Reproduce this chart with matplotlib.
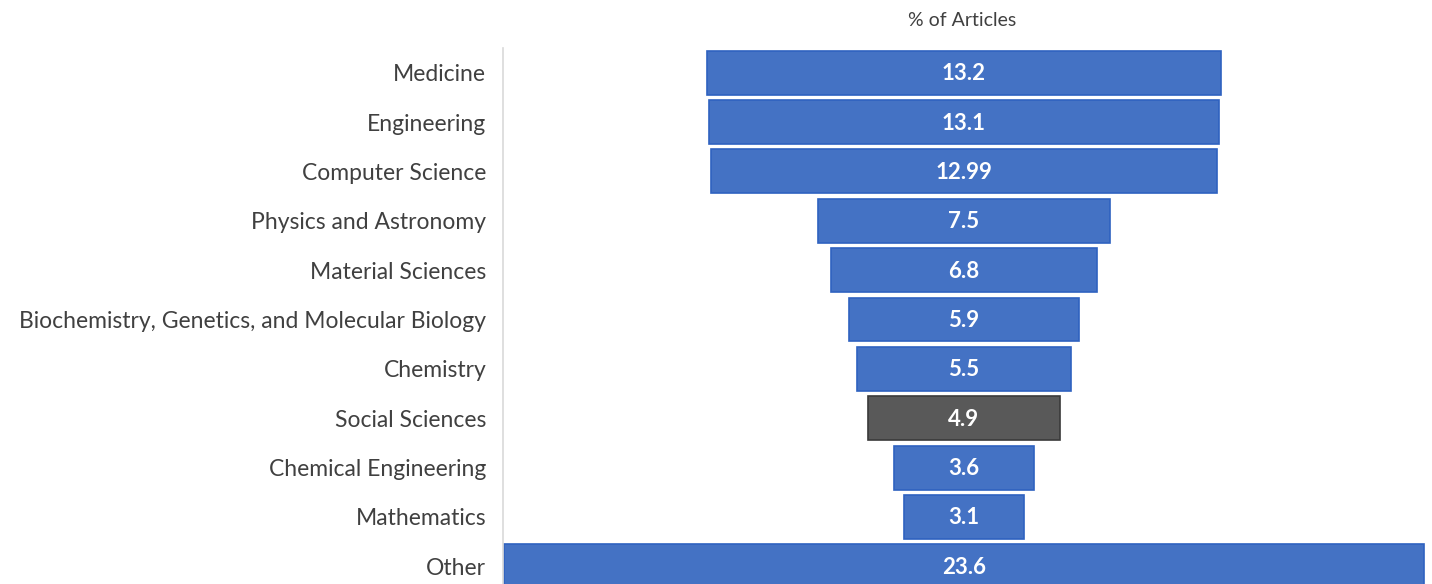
import matplotlib
matplotlib.use("Agg")
import matplotlib.pyplot as plt

categories = ["Medicine", "Engineering", "Computer Science", "Physics and Astronomy",
              "Material Sciences", "Biochemistry, Genetics, and Molecular Biology",
              "Chemistry", "Social Sciences", "Chemical Engineering", "Mathematics", "Other"]
values = [13.2, 13.1, 12.99, 7.5, 6.8, 5.9, 5.5, 4.9, 3.6, 3.1, 23.6]
highlight = "Social Sciences"

plt.rcParams['font.family'] = ['Lato', 'DejaVu Sans']

fig = plt.figure(figsize=(14.32, 5.84), dpi=100)
ax = fig.add_axes([503 / 1432, -7 / 584, 922 / 1432, 543 / 584])

blue, blue_edge = "#4472C4", "#2F62C0"
gray, gray_edge = "#595959", "#3A3A3A"

y_pos = range(len(categories))
for i, (cat, val) in enumerate(zip(categories, values)):
    face = gray if cat == highlight else blue
    edge = gray_edge if cat == highlight else blue_edge
    ax.barh(i, val, left=-val / 2, height=0.89, color=face, edgecolor=edge, linewidth=1.2)
    ax.text(0, i + 0.02, f"{val:g}", ha="center", va="center", color="white",
            fontsize=16, fontweight="bold")

ax.set_yticks(list(y_pos))
ax.set_yticklabels(categories, fontsize=16.5, color="#404040")
ax.tick_params(axis="y", length=0, pad=12)
ax.set_ylim(len(categories) - 0.5, -0.5)
ax.set_xlim(-11.82, 11.82)
ax.set_xticks([])

for s in ["top", "right", "bottom"]:
    ax.spines[s].set_visible(False)
ax.spines["left"].set_color("#D9D9D9")
ax.spines["left"].set_linewidth(1.2)

fig.text(962 / 1432, 1 - 21 / 584, "% of Articles", ha="center", va="center",
         fontsize=14, color="#404040")

fig.savefig("out.png", dpi=100)
